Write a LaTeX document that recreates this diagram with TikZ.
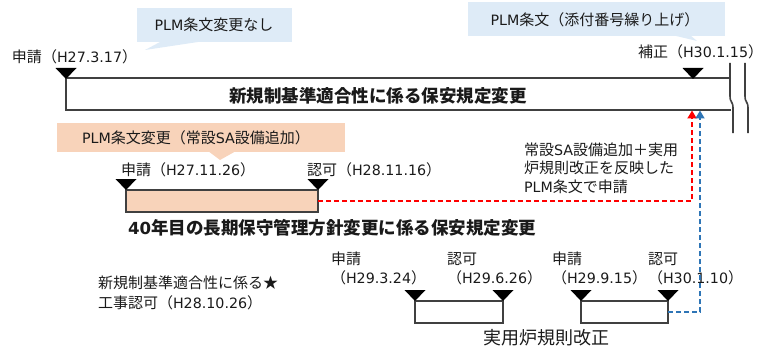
\documentclass[tikz,border=0pt]{standalone}
\usepackage{fontspec}
\setmainfont{Noto Sans CJK JP}
\newfontfamily\lat[Scale=0.95]{DejaVu Sans}
\usetikzlibrary{arrows.meta}
\definecolor{callblue}{HTML}{DEEBF7}
\definecolor{callorange}{HTML}{F8D3BA}
\definecolor{edgegray}{HTML}{404040}
\definecolor{txt}{HTML}{1A1A1A}
\definecolor{dashred}{HTML}{FF0000}
\definecolor{dashblue}{HTML}{2E75B6}
\newcommand{\mytri}[1]{\fill[black] (#1) -- ++(-10.5,-11) -- ++(21,0) -- cycle;}
\newcommand{\lt}[1]{{\lat #1}}
\begin{document}
\begin{tikzpicture}[x=1pt,y=-1pt,
  every node/.style={inner sep=0pt,outer sep=0pt,text=txt,font=\fontsize{15}{19}\selectfont},
  lbl/.style={anchor=west,align=left},
  boldlbl/.style={font=\fontsize{17.5}{21}\bfseries},
  stagebox/.style={draw=edgegray,line width=1.8pt,minimum height=22pt},
  reddash/.style={draw=dashred,line width=1.8pt,dash pattern=on 5pt off 3pt,-{Triangle[width=9pt,length=8pt]}},
  bluedash/.style={draw=dashblue,line width=1.8pt,dash pattern=on 5pt off 3pt,-{Triangle[width=9pt,length=8pt]}},
  breakline/.style={draw=edgegray,line width=1.6pt}
]
\useasboundingbox (0,0) rectangle (765,350);

% callouts
\fill[callblue] (137,8) rectangle (292,42);
\fill[callblue] (160,42) -- (145,50) -- (198,42) -- cycle;
\node (c1) at (214,25) {\lt{PLM}条文変更なし};

\fill[callblue] (468,2) rectangle (725,36);
\fill[callblue] (672,35) -- (697,41) -- (690,35) -- cycle;
\node (c2) at (595,20) {\lt{PLM}条文（添付番号繰り上げ）};

\fill[callorange] (57,123) rectangle (345,152);
\fill[callorange] (208,151) -- (220,160) -- (236,151) -- cycle;
\node (c3) at (196,138) {\lt{PLM}条文変更（常設\lt{SA}設備追加）};

% main bar
\draw[edgegray,line width=1.8pt] (731,78) -- (66,78) -- (66,110) -- (731,110);
\draw[breakline] (730,63) -- (730,96) .. controls (730,103) and (733,101) .. (733,108) -- (733,133);
\draw[breakline] (745,63) -- (745,96) .. controls (745,103) and (748,101) .. (748,108) -- (748,133);
\node[boldlbl] (barlabel) at (378,96) {新規制基準適合性に係る保安規定変更};

% labels top
\node[lbl] (l1) at (12,57) {申請（\lt{H27.3.17}）};
\node[lbl] (l2) at (638,52) {補正（\lt{H30.1.15}）};
\mytri{66,79}
\mytri{693,79}

% PLM change box
\node[stagebox,fill=callorange,minimum width=192pt] (pbox) at (222,201) {};
\node[lbl] (l3) at (121,170) {申請（\lt{H27.11.26}）};
\node[lbl] (l4) at (307,170) {認可（\lt{H28.11.16}）};
\mytri{126,190}
\mytri{318,190}

\node[lbl,font=\fontsize{15}{18.5}\selectfont] (note) at (524,168) {常設\lt{SA}設備追加＋実用\\炉規則改正を反映した\\\lt{PLM}条文で申請};

\node[lbl,boldlbl] (title2) at (128,228) {\lt{40}年目の長期保守管理方針変更に係る保安規定変更};

\node[lbl,font=\fontsize{15}{20}\selectfont] (star) at (98,293) {新規制基準適合性に係る★\\工事認可（\lt{H28.10.26}）};

% reactor rule boxes
\node[stagebox,minimum width=88pt] (rbox1) at (459,312) {};
\node[stagebox,minimum width=87pt] (rbox2) at (624.5,312) {};
\node[lbl] (l5) at (331,268.5) {申請\\（\lt{H29.3.24}）};
\node[lbl] (l6) at (447,268.5) {認可\\（\lt{H29.6.26}）};
\node[lbl] (l7) at (552,268.5) {申請\\（\lt{H29.9.15}）};
\node[lbl] (l8) at (648,268.5) {認可\\（\lt{H30.1.10}）};
\mytri{415,301}
\mytri{503,301}
\mytri{581,301}
\mytri{668,301}
\node[font=\fontsize{18}{22}\selectfont] (rlabel) at (546,338) {実用炉規則改正};

% connectors
\coordinate (redend) at (692,110.5);
\coordinate (blueend) at (700,110.5);
\draw[reddash] (pbox.east) -| (redend);
\draw[bluedash] (rbox2.east) -| (blueend);
\end{tikzpicture}
\end{document}
